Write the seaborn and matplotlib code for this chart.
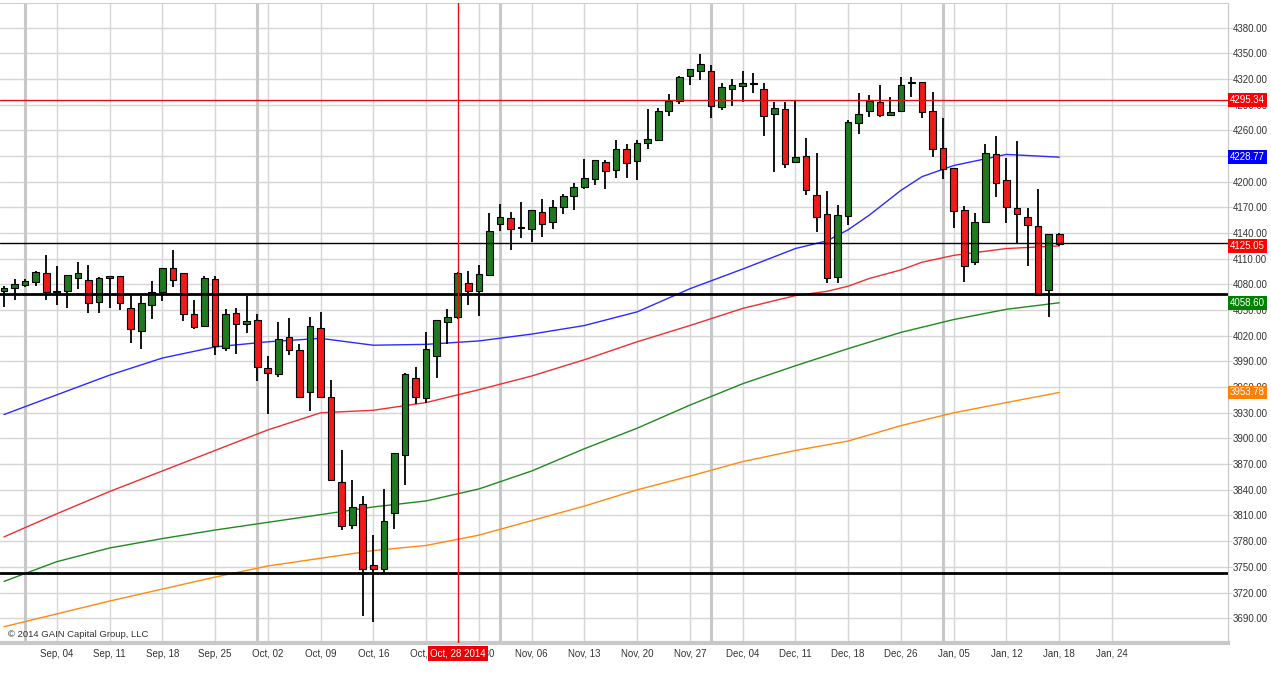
import numpy as np
import pandas as pd
import seaborn as sns
import matplotlib.pyplot as plt
from matplotlib.transforms import blended_transform_factory

# Daily candles, Aug 28 2014 .. Jan 18 2015 (one per trading day)
opens = [4072, 4076, 4079, 4083, 4093, 4071, 4072, 4088, 4085, 4060,
         4088, 4090, 4053, 4026, 4056, 4071, 4099, 4093, 4046, 4032,
         4086, 4006, 4047, 4034, 4038, 3982, 3975, 4019, 4003, 3954,
         4029, 3948, 3849, 3799, 3824, 3752, 3748, 3813, 3881, 3971,
         3947, 3996, 4036, 4042, 4082, 4072, 4091, 4151, 4158, 4146.5,
         4145, 4165, 4153, 4171, 4183, 4194, 4203, 4223, 4214, 4238,
         4224, 4245, 4249, 4283, 4294, 4324, 4329, 4330, 4287, 4309,
         4312, 4314, 4309, 4279, 4285, 4223, 4230, 4185, 4162, 4089,
         4160, 4269, 4283, 4293, 4278, 4283, 4316, 4317, 4283, 4240,
         4216, 4167, 4106, 4153, 4233, 4202, 4169, 4159, 4148, 4073,
         4139]
highs = [4078, 4086, 4086, 4096, 4115, 4102, 4091, 4106, 4103, 4089,
         4090, 4090, 4068, 4067, 4084, 4099, 4120, 4093, 4062, 4090,
         4090, 4051, 4052, 4066, 4046, 3996, 4036, 4041, 4011, 4042,
         4048, 3968, 3886, 3852, 3833, 3787, 3841, 3883, 3977, 3983,
         4025, 4039, 4051, 4095, 4096, 4103, 4164, 4174, 4165, 4176,
         4167, 4180, 4179, 4186, 4199, 4227, 4226, 4225, 4249, 4244,
         4249, 4285, 4286, 4303, 4324, 4332, 4349, 4336, 4315, 4320,
         4329, 4327, 4316, 4293, 4293, 4295, 4251, 4234, 4189, 4173,
         4272, 4304, 4302, 4313, 4299, 4322, 4322, 4317, 4305, 4274,
         4216, 4172, 4164, 4244, 4253, 4228, 4248, 4169, 4191, 4139,
         4140]
lows = [4054, 4062, 4077, 4078, 4062, 4056, 4052, 4075, 4047, 4047,
        4053, 4050, 4012, 4005, 4040, 4061, 4077, 4037, 4028, 4030,
        3998, 4002, 3999, 4023, 3967, 3929, 3972, 3998, 3948, 3932,
        3947, 3852, 3793, 3794, 3692, 3685, 3743, 3794, 3846, 3940,
        3941, 3971, 4010, 4040, 4056, 4043, 4090, 4142, 4120, 4134,
        4130, 4136, 4145, 4162, 4167, 4192, 4196, 4191, 4204, 4205,
        4202, 4238, 4249, 4277, 4291, 4313, 4319, 4275, 4284, 4288,
        4293, 4304, 4254, 4212, 4216, 4223, 4185, 4141, 4082, 4082,
        4150, 4256, 4276, 4276, 4277, 4283, 4299, 4275, 4229, 4203,
        4146, 4083, 4103, 4153, 4182, 4152, 4128, 4102, 4067, 4042,
        4125]
closes = [4076, 4080, 4084, 4095, 4071, 4072, 4091, 4093, 4058, 4088,
          4090, 4058, 4028, 4058, 4071, 4099, 4085, 4045, 4030, 4088,
          4008, 4045, 4034, 4037, 3983, 3976, 4016, 4003, 3949, 4032,
          3949, 3852, 3798, 3820, 3747, 3747, 3804, 3883, 3975, 3948,
          4004, 4039, 4042, 4093, 4072, 4092, 4142, 4159, 4145, 4145.5,
          4167, 4151, 4171, 4183, 4194, 4205, 4226, 4213, 4238, 4222,
          4245, 4250, 4283, 4295, 4322, 4332, 4338, 4288, 4311, 4313,
          4315, 4314.5, 4277, 4286, 4221, 4229, 4190, 4159, 4088, 4161,
          4270, 4279, 4295, 4278, 4282, 4313, 4316.5, 4282, 4238, 4215,
          4166, 4102, 4153, 4234, 4199, 4171, 4162, 4150, 4068, 4139,
          4127]

# moving averages (bar index -> value)
fast_days = [0, 5, 10, 15, 20, 25, 30, 35, 40, 45, 50, 55, 60, 65, 70, 75,
             78, 80, 82, 85, 87, 90, 95, 100]
ma_blue = [3928, 3951, 3974, 3994, 4007, 4013, 4017, 4009, 4010, 4014, 4022,
           4032, 4048, 4075, 4098, 4122, 4131, 4144, 4161, 4190, 4206, 4219,
           4232, 4228.77]
ma_red = [3785, 3812, 3838, 3862, 3886, 3910, 3930, 3933, 3942, 3957, 3973,
          3992, 4013, 4032, 4052, 4067, 4072, 4078, 4087, 4097, 4106, 4114,
          4122, 4125.05]
slow_days = list(range(0, 101, 5))
ma_green = [3733, 3756, 3772, 3783, 3793, 3802, 3811, 3820, 3827, 3841, 3862,
            3888, 3912, 3939, 3964, 3985, 4005, 4024, 4039, 4051, 4058.60]
ma_orange = [3680, 3695, 3710, 3724, 3738, 3751, 3760, 3769, 3775, 3787, 3804,
             3821, 3840, 3856, 3873, 3886, 3897, 3915, 3930, 3942, 3953.78]

tick_days = list(range(5, 106, 5))
tick_labels = ["Sep, 04", "Sep, 11", "Sep, 18", "Sep, 25", "Oct, 02", "Oct, 09",
               "Oct, 16", "Oct, 23", "Oct, 30", "Nov, 06", "Nov, 13", "Nov, 20",
               "Nov, 27", "Dec, 04", "Dec, 11", "Dec, 18", "Dec, 26", "Jan, 05",
               "Jan, 12", "Jan, 18", "Jan, 24"]
month_days = [2, 24, 47, 67, 89]

black_levels = [4128.0, 4068.9, 3742.6]
red_level = 4295.34
marker_day = 43

# build frames
df = pd.DataFrame({"open": opens, "high": highs, "low": lows, "close": closes})
df["day"] = np.arange(len(df))
df["up"] = df["close"] >= df["open"]

ma_long = pd.concat([
    pd.DataFrame({"day": fast_days, "price": ma_blue, "line": "blue"}),
    pd.DataFrame({"day": fast_days, "price": ma_red, "line": "red"}),
    pd.DataFrame({"day": slow_days, "price": ma_green, "line": "green"}),
    pd.DataFrame({"day": slow_days, "price": ma_orange, "line": "orange"}),
], ignore_index=True)

sns.set_style("white")
plt.rcParams["font.family"] = ["Liberation Sans", "DejaVu Sans"]

fig = plt.figure(figsize=(12.71, 6.73), dpi=100)
ax = fig.add_axes([0.0, 0.0446, 0.9662, 0.951])

ax.set_xlim(-0.38, 116.0)
ax.set_ylim(3661, 4409)

# grid
for y in np.arange(3690, 4381, 30):
    ax.axhline(y, color="#d6d6d6", lw=1, zorder=0)
for d in tick_days:
    ax.axvline(d, color="#d6d6d6", lw=1, zorder=0)
for d in month_days:
    ax.axvline(d, color="#c8c8c8", lw=2.2, zorder=0)

# moving averages
palette = {"blue": "#2b2bff", "red": "#ee3030", "green": "#208a20", "orange": "#ff8a10"}
sns.lineplot(data=ma_long, x="day", y="price", hue="line", palette=palette,
             lw=1, legend=False, ax=ax, zorder=1)

# candles
ax.vlines(df["day"], df["low"], df["high"], color="black", lw=1.3, zorder=2)
body = np.maximum((df["close"] - df["open"]).abs(), 1.2)
bottom = df[["open", "close"]].min(axis=1)
colors = np.where(df["up"], "#1f7a1f", "#f01a1a")
ax.bar(df["day"], body, bottom=bottom, width=0.63, color=colors,
       edgecolor="black", linewidth=0.8, zorder=3)

# levels
for lvl in black_levels:
    ax.axhline(lvl, color="black", lw=1 if lvl == black_levels[0] else 2, zorder=4)
ax.axhline(red_level, color="#e01010", lw=1, zorder=4)
ax.axvline(marker_day, color="#e01010", lw=1, zorder=4)

# axes look
ax.spines["left"].set_visible(False)
ax.spines["top"].set_color("#d0d0d0")
ax.spines["right"].set_color("#c8c8c8")
ax.spines["bottom"].set_color("#c8c8c8")
ax.spines["bottom"].set_linewidth(3)
ax.yaxis.tick_right()
ax.set_yticks(np.arange(3690, 4381, 30))
ax.set_yticklabels([f"{v:.2f}" for v in np.arange(3690, 4381, 30)])
ax.tick_params(axis="y", length=3, color="#d6d6d6", pad=0.5, labelsize=7, labelcolor="#333333")
ax.set_xticks(tick_days)
ax.set_xticklabels(tick_labels)
ax.tick_params(axis="x", length=0, pad=4, labelsize=7, labelcolor="#333333")
ax.set_xlabel("")
ax.set_ylabel("")

# right-hand value flags
trans_y = blended_transform_factory(ax.transAxes, ax.transData)
flags = [(red_level, "#ff0000"), (ma_blue[-1], "#0000ff"), (ma_red[-1], "#ff0000"),
         (ma_green[-1], "#008000"), (ma_orange[-1], "#ff8000")]
for val, col in flags:
    ax.text(1.0015, val, f"{val:.2f}", transform=trans_y, ha="left", va="center",
            fontsize=7, color="white", clip_on=False, zorder=10,
            bbox=dict(boxstyle="square,pad=0.2", fc=col, ec="none"))

# date flag under the marker line
trans_x = blended_transform_factory(ax.transData, ax.transAxes)
ax.text(marker_day, -0.016, "Oct, 28 2014", transform=trans_x, ha="center", va="center",
        fontsize=7, color="white", clip_on=False, zorder=10,
        bbox=dict(boxstyle="square,pad=0.25", fc="#ee0000", ec="none"))

ax.text(0.0065, 0.014, "\u00a9 2014 GAIN Capital Group, LLC", transform=ax.transAxes,
        fontsize=6.8, color="#333333", ha="left", va="center", zorder=10)

fig.savefig("out.png", dpi=100)
